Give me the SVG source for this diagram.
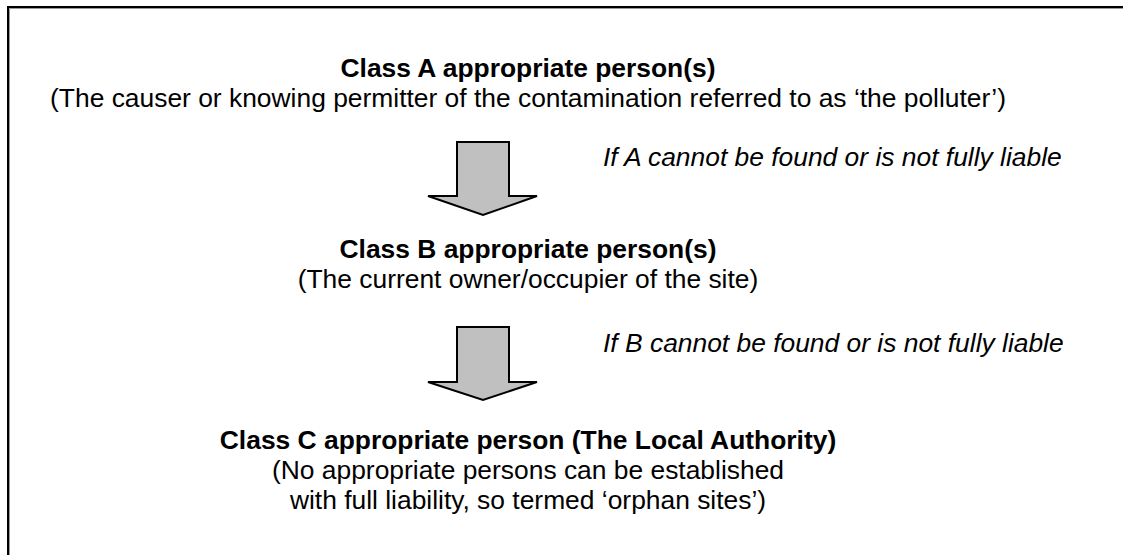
<svg xmlns="http://www.w3.org/2000/svg" width="1123" height="555" viewBox="0 0 1123 555">
<style>
text{font-family:"Liberation Sans",Arial,sans-serif;font-size:26.4px;fill:#000}
.b{font-weight:bold}
.c{text-anchor:middle}
.i{font-style:italic}
.arrow{fill:#c0c0c0;stroke:#000;stroke-width:2;stroke-linejoin:miter}
</style>
<rect width="1123" height="555" fill="#fff"/>
<g id="frame">
<path d="M9.5,560 V8.5 H1130" fill="none" stroke="#9a9a9a" stroke-width="1"/>
<path d="M8,560 V7 H1130" fill="none" stroke="#000" stroke-width="2"/>
</g>
<g id="classA">
<text class="b c" x="528" y="77">Class A appropriate person(s)</text>
<text class="c" x="528" y="107">(The causer or knowing permitter of the contamination referred to as ‘the polluter’)</text>
</g>
<g id="classB">
<text class="b c" x="528" y="258">Class B appropriate person(s)</text>
<text class="c" x="528" y="288">(The current owner/occupier of the site)</text>
</g>
<g id="classC">
<text class="b c" x="528" y="449">Class C appropriate person (The Local Authority)</text>
<text class="c" x="528" y="479">(No appropriate persons can be established</text>
<text class="c" x="528" y="509">with full liability, so termed ‘orphan sites’)</text>
</g>
<g id="connectors">
<path class="arrow" d="M457,142 H509 V196 H537 L483,215 L428,196 H457 Z"/>
<text class="i" x="603" y="166">If A cannot be found or is not fully liable</text>
<path class="arrow" d="M457,327 H509 V382 H537 L483,400 L428,382 H457 Z"/>
<text class="i" x="603" y="352">If B cannot be found or is not fully liable</text>
</g>
</svg>
